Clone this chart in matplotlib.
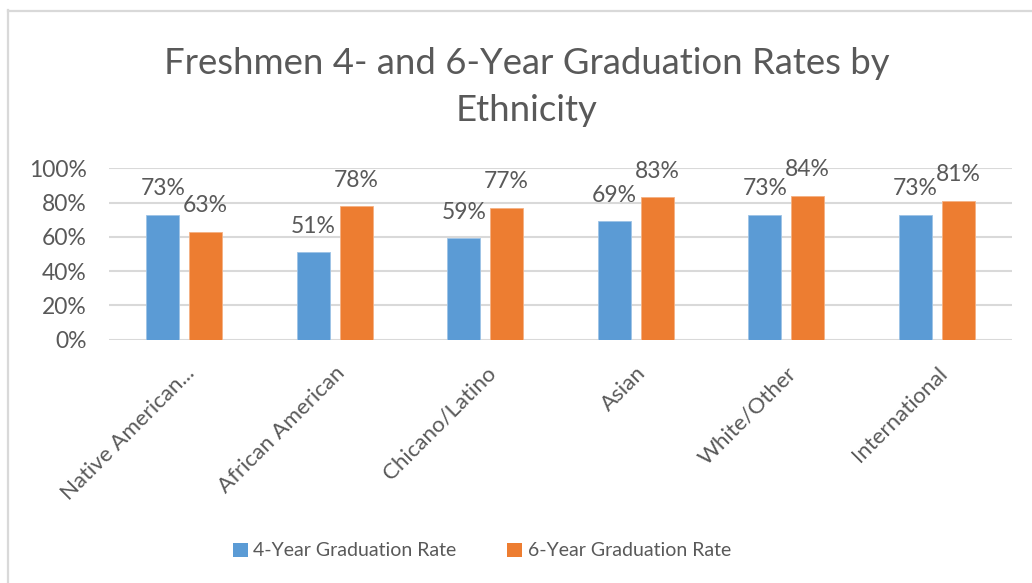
import matplotlib
matplotlib.use("Agg")
import matplotlib.pyplot as plt
import matplotlib.transforms as mtransforms
from matplotlib.patches import Patch
from matplotlib.lines import Line2D
import numpy as np

categories = ["Native American...", "African American", "Chicano/Latino", "Asian", "White/Other", "International"]
rate_4yr = [73, 51, 59, 69, 73, 73]
rate_6yr = [63, 78, 77, 83, 84, 81]
series_names = ["4-Year Graduation Rate", "6-Year Graduation Rate"]
yticks = [0, 20, 40, 60, 80, 100]
title = "Freshmen 4- and 6-Year Graduation Rates by\nEthnicity"

BLUE = "#5B9BD5"
ORANGE = "#ED7D31"
GRID = "#D9D9D9"
TXT = "#595959"

plt.rcParams['font.family'] = ['Lato', 'DejaVu Sans']

W, H = 1032, 583
fig = plt.figure(figsize=(W / 100, H / 100), dpi=100)
fig.patch.set_facecolor("white")

# chart border (light gray)
fig.add_artist(Line2D([8 / W, 8 / W], [0, 1 - 10 / H], transform=fig.transFigure, color=GRID, lw=1.6))
fig.add_artist(Line2D([8 / W, 1], [1 - 11 / H, 1 - 11 / H], transform=fig.transFigure, color=GRID, lw=1.6))

left, right = 109 / W, 1012 / W
bottom, top = 1 - 339.5 / H, 1 - 168.3 / H
ax = fig.add_axes([left, bottom, right - left, top - bottom])

x = np.arange(len(categories))
bw = 0.22
off = 0.142
b1 = ax.bar(x - off, rate_4yr, bw, color=BLUE, edgecolor="#9DC3E6", linewidth=0.6, zorder=3)
b2 = ax.bar(x + off, rate_6yr, bw, color=ORANGE, edgecolor="#F4B183", linewidth=0.6, zorder=3)

for bars, vals in ((b1, rate_4yr), (b2, rate_6yr)):
    for rect, v in zip(bars, vals):
        ax.annotate(f"{v}%", (rect.get_x() + rect.get_width() / 2, v),
                    xytext=(0, 14), textcoords="offset points",
                    ha="center", va="baseline", fontsize=16.5, color=TXT, zorder=4)

ax.set_xlim(-0.5, len(categories) - 0.5)
ax.set_ylim(0, 100)
ax.set_yticks(yticks)
ax.set_yticklabels([f"{t}%" for t in yticks])
ax.yaxis.grid(True, color=GRID, linewidth=1.5, zorder=0)
ax.set_axisbelow(True)
for s in ax.spines.values():
    s.set_visible(False)
ax.tick_params(axis="y", length=0, pad=16, labelsize=16.5, labelcolor=TXT)
ax.tick_params(axis="x", length=0, pad=17, labelsize=16, labelcolor=TXT)
ax.set_xticks(x)
ax.set_xticklabels(categories, rotation=45, ha="right", rotation_mode="anchor")
shift = mtransforms.ScaledTranslation(0 / 100, 0, fig.dpi_scale_trans)
for lbl in ax.get_xticklabels():
    lbl.set_transform(lbl.get_transform() + shift)

fig.text(527 / W, 1 - 87 / H, title, ha="center", va="center", fontsize=26.3,
         color=TXT, linespacing=1.5)

handles = [Patch(facecolor=BLUE, edgecolor="none"), Patch(facecolor=ORANGE, edgecolor="none")]
fig.legend(handles, series_names, loc="center", bbox_to_anchor=(482 / W, 1 - 551 / H),
           ncol=2, frameon=False, fontsize=14, labelcolor=TXT,
           handlelength=0.75, handleheight=0.75, handletextpad=0.3, columnspacing=2.6)

fig.savefig("out.png", dpi=100, facecolor="white")
